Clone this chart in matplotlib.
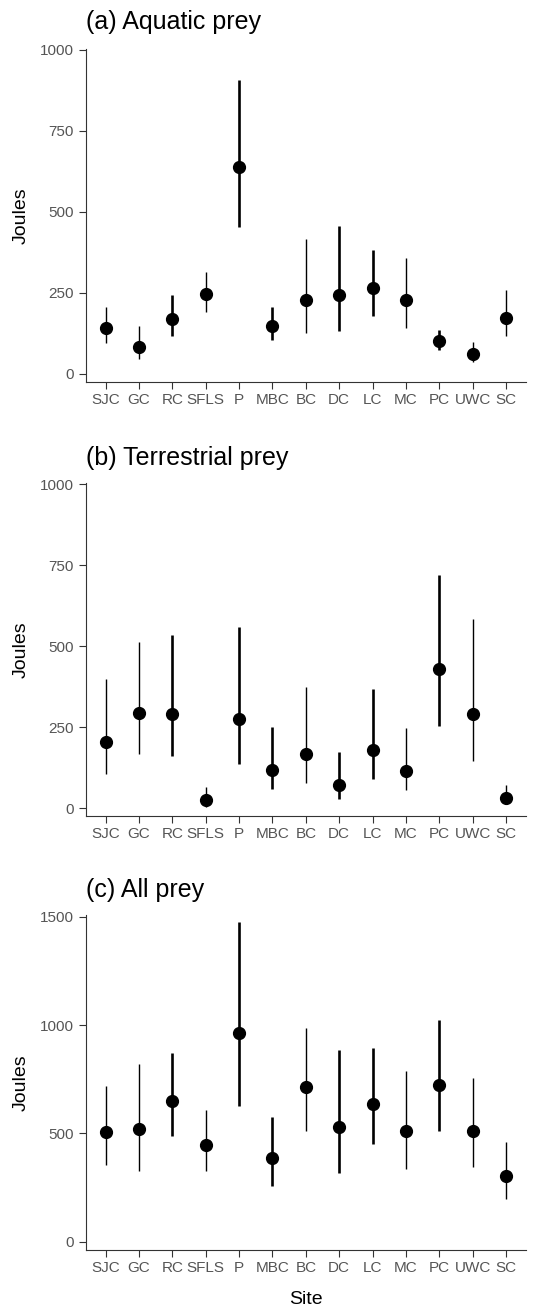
import numpy as np
import matplotlib
matplotlib.use("Agg")
import matplotlib.pyplot as plt

plt.rcParams['font.family'] = ['Liberation Sans', 'DejaVu Sans']

# sites along the x axis
sites = ["SJC", "GC", "RC", "SFLS", "P", "MBC", "BC", "DC", "LC", "MC", "PC", "UWC", "SC"]
# sites drawn with the heavier interval line
heavy = [False, False, True, False, True, True, False, True, True, False, True, False, False]

# (a) aquatic prey
aq_mean = [142, 82, 170, 246, 640, 148, 229, 245, 264, 227, 102, 63, 174]
aq_lo = [97, 46, 117, 191, 454, 106, 126, 134, 180, 141, 75, 38, 117]
aq_hi = [208, 148, 244, 315, 907, 208, 417, 457, 382, 358, 136, 100, 259]

# (b) terrestrial prey
te_mean = [203, 293, 290, 25, 275, 117, 168, 72, 180, 116, 429, 291, 31]
te_lo = [106, 168, 162, 5, 138, 58, 77, 29, 90, 57, 255, 147, 12]
te_hi = [398, 513, 536, 64, 559, 251, 373, 175, 369, 247, 721, 584, 72]

# (c) all prey
al_mean = [506, 521, 651, 447, 963, 385, 712, 529, 637, 509, 725, 509, 304]
al_lo = [355, 328, 486, 328, 627, 259, 513, 319, 453, 336, 513, 347, 199]
al_hi = [720, 822, 871, 609, 1478, 578, 987, 886, 893, 786, 1022, 755, 461]

panels = [
    ("(a) Aquatic prey", aq_mean, aq_lo, aq_hi, [0, 250, 500, 750, 1000], (-24, 1003)),
    ("(b) Terrestrial prey", te_mean, te_lo, te_hi, [0, 250, 500, 750, 1000], (-24, 1003)),
    ("(c) All prey", al_mean, al_lo, al_hi, [0, 500, 1000, 1500], (-38, 1508)),
]

W, H = 556, 1313
fig = plt.figure(figsize=(W / 100, H / 100), dpi=100)

# axes boxes in pixels: top, bottom
boxes = [(49, 381.7), (483.3, 816), (915, 1250)]
title_base = [29.3, 465, 896.7]
left, right = 85.7, 526

x = np.arange(1, len(sites) + 1)
tick_col = "#555555"

for i, (title, m, lo, hi, yt, ylim) in enumerate(panels):
    top, bot = boxes[i]
    ax = fig.add_axes([left / W, 1 - bot / H, (right - left) / W, (bot - top) / H])
    for xi, mi, l, h, hv in zip(x, m, lo, hi, heavy):
        ax.vlines(xi, l, h, color="black", lw=1.9 if hv else 1.0)
    ax.plot(x, m, "o", color="black", ms=8.5, zorder=3)

    ax.set_xlim(0.4, len(sites) + 0.6)
    ax.set_ylim(*ylim)
    ax.set_xticks(x)
    ax.set_xticklabels(sites)
    ax.set_yticks(yt)
    for s in ["top", "right"]:
        ax.spines[s].set_visible(False)
    for s in ["left", "bottom"]:
        ax.spines[s].set_color("#333333")
        ax.spines[s].set_linewidth(0.8)
    ax.tick_params(axis="both", length=4.8, width=0.8, color="#333333",
                   labelcolor=tick_col, labelsize=11)
    ax.tick_params(axis="x", pad=3)
    ax.tick_params(axis="y", pad=4)

    ax.set_ylabel("Joules", fontsize=14, va="center")
    ax.yaxis.set_label_coords((21 - left) / (right - left), 0.5)
    fig.text(86 / W, 1 - title_base[i] / H, title, fontsize=18, va="baseline", ha="left")
    if i == 2:
        ax.set_xlabel("Site", fontsize=14)
        ax.xaxis.set_label_coords(0.5, (bot - 1299) / (bot - top))
        ax.xaxis.label.set_va("center")

fig.savefig("out.png", dpi=100)
